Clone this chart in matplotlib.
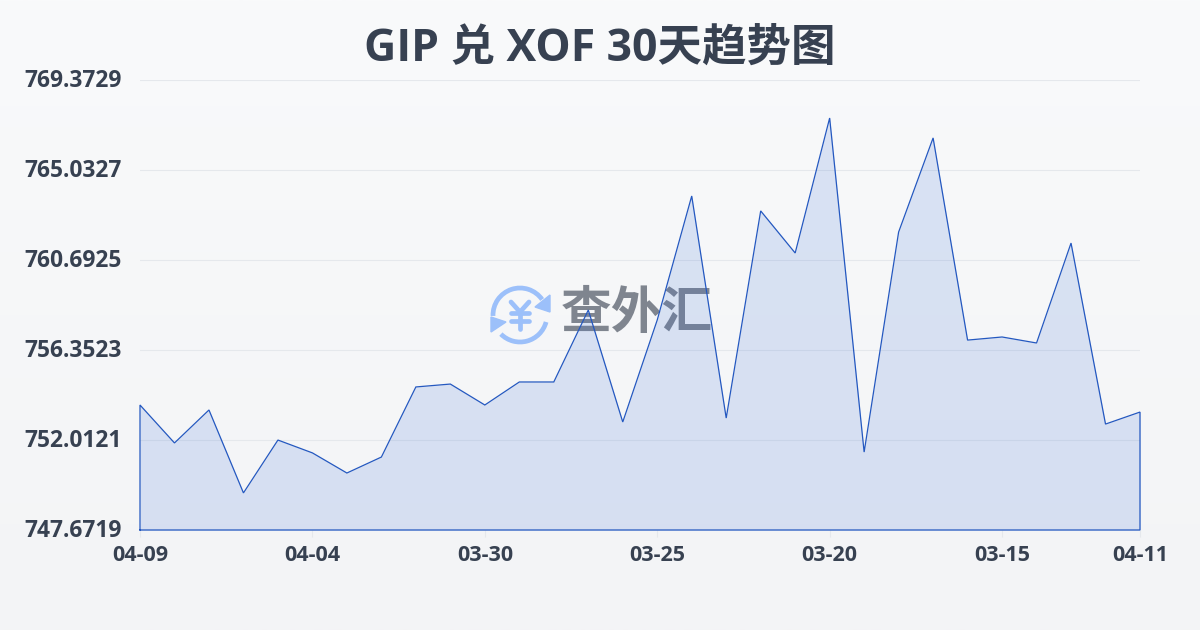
import numpy as np
import matplotlib
matplotlib.use("Agg")
import matplotlib.pyplot as plt
from matplotlib.patches import Arc, Polygon
from matplotlib.transforms import ScaledTranslation

plt.rcParams['font.family'] = ['Open Sans', 'Noto Sans CJK SC', 'DejaVu Sans']

# -----------------------------
# DATA
# -----------------------------
TITLE = "GIP 兑 XOF 30天趋势图"
RATES = [753.70, 751.87, 753.46, 749.46, 752.01, 751.39, 750.42, 751.19, 754.57, 754.71,
         753.70, 754.81, 754.81, 758.28, 752.88, 757.80, 763.78, 753.07, 763.06, 761.03,
         767.54, 751.43, 762.04, 766.58, 756.83, 756.98, 756.69, 761.51, 752.78, 753.36]
Y_TICKS = [747.6719, 752.0121, 756.3523, 760.6925, 765.0327, 769.3729]
X_TICK_POS = [0, 5, 10, 15, 20, 25, 29]
X_TICK_LABELS = ["04-09", "04-04", "03-30", "03-25", "03-20", "03-15", "04-11"]

LINE = "#2458c0"
GRID = "#e5e8ec"
TEXT = "#374151"

fig = plt.figure(figsize=(12, 6.3), dpi=100)

# background gradient
bg = fig.add_axes([0, 0, 1, 1], zorder=0)
bg.imshow(np.linspace(0, 1, 256).reshape(-1, 1), cmap=matplotlib.colors.LinearSegmentedColormap.from_list(
    "bg", ["#f9fafb", "#f3f4f6"]), aspect="auto", extent=[0, 1200, 630, 0])
bg.set_xlim(0, 1200)
bg.set_ylim(630, 0)
bg.axis("off")

# watermark sits under the chart
BLUE = "#9cc0fa"
bg.add_patch(Arc((520, 315), 54, 54, theta1=178, theta2=325, color=BLUE, lw=3.4))
bg.add_patch(Arc((520, 315), 54, 54, theta1=15, theta2=135, color=BLUE, lw=3.4))
bg.add_patch(Polygon([(550, 295), (550, 312), (535, 307)], color=BLUE))
bg.add_patch(Polygon([(491, 317), (491, 332), (506, 322)], color=BLUE))
for xs, ys in [([511, 520, 529], [302, 312, 302]), ([511, 529], [313, 313]),
               ([511, 529], [321, 321]), ([520, 520], [312, 329])]:
    bg.plot(xs, ys, color=BLUE, lw=3.4, solid_capstyle="round", solid_joinstyle="round")
bg.text(636.5, 315, "查外汇", color="#7f858f", fontsize=36.5, fontweight="bold", ha="center", va="center")

ax = fig.add_axes([140 / 1200, 1 - 530 / 630, 1000 / 1200, 450 / 630], zorder=1)
ax.patch.set_alpha(0)

x = np.arange(len(RATES))
bottom = Y_TICKS[0]
ax.fill_between(x, RATES, bottom, color="#3b6fd8", alpha=0.16, lw=0, zorder=2)
ax.plot(np.r_[x[0], x, x[-1], x[0]], np.r_[bottom, RATES, bottom, bottom],
        color=LINE, lw=0.9, solid_joinstyle="miter", clip_on=False, zorder=3)

ax.set_xlim(0, len(RATES) - 1)
ax.set_ylim(Y_TICKS[0], Y_TICKS[-1])
for s in ax.spines.values():
    s.set_visible(False)
ax.set_yticks(Y_TICKS)
ax.set_yticklabels([f"{v:.4f}" for v in Y_TICKS], fontsize=16.4, fontweight="bold", color=TEXT)
ax.set_xticks(X_TICK_POS)
ax.set_xticklabels(X_TICK_LABELS, fontsize=15.5, fontweight="bold", color=TEXT)
ax.tick_params(axis="y", length=0, pad=13)
ax.tick_params(axis="x", length=5, width=0.8, color=GRID, pad=5.5)
for lab in ax.get_yticklabels():
    lab.set_transform(lab.get_transform() + ScaledTranslation(0, 2 / 100, fig.dpi_scale_trans))
ax.grid(axis="y", color=GRID, lw=0.8, zorder=1)
ax.set_axisbelow(True)

fig.text(0.5, 1 - 49 / 630, TITLE, fontsize=32, fontweight="bold", color=TEXT, ha="center", va="center")

fig.savefig("out.png", dpi=100)
